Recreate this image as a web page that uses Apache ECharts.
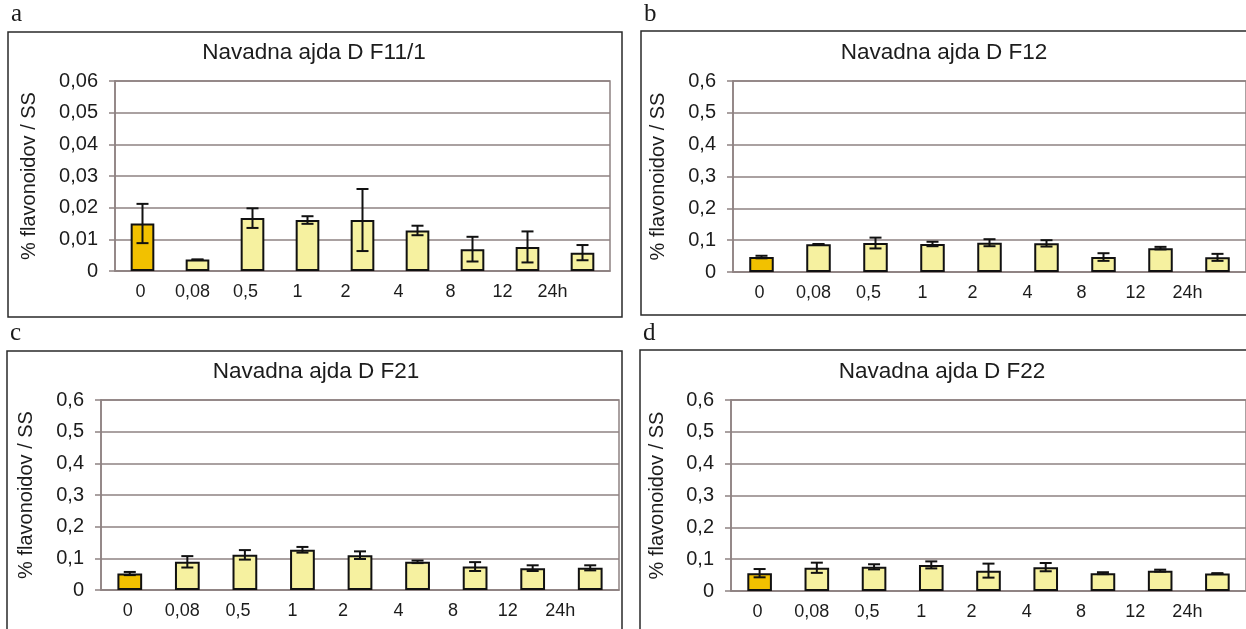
<!DOCTYPE html>
<html>
<head>
<meta charset="utf-8">
<title>Navadna ajda D – flavonoidi</title>
<script src="https://cdn.jsdelivr.net/npm/echarts@6/dist/echarts.min.js"></script>
<style>
  html, body { margin: 0; padding: 0; background: #ffffff; }
  #chart { width: 1246px; height: 629px; }
</style>
</head>
<body>
<div id="chart"></div>
<script>
// Sampling times (h)
const categories = ['0', '0,08', '0,5', '1', '2', '4', '8', '12', '24h'];

// Mean flavonoid content (% / SS) and standard deviation per fraction
const f11Values = [0.0150, 0.0036, 0.0167, 0.0161, 0.0161, 0.0128, 0.0069, 0.0076, 0.0058];
const f11Errors = [0.0062, 0.0000, 0.0031, 0.0012, 0.0098, 0.0015, 0.0039, 0.0049, 0.0024];

const f12Values = [0.047, 0.087, 0.091, 0.088, 0.092, 0.090, 0.047, 0.075, 0.046];
const f12Errors = [0.004, 0.001, 0.017, 0.007, 0.011, 0.010, 0.012, 0.004, 0.011];

const f21Values = [0.052, 0.089, 0.111, 0.127, 0.110, 0.089, 0.074, 0.069, 0.070];
const f21Errors = [0.005, 0.018, 0.015, 0.009, 0.012, 0.004, 0.014, 0.009, 0.008];

const f22Values = [0.056, 0.073, 0.076, 0.082, 0.064, 0.075, 0.056, 0.064, 0.055];
const f22Errors = [0.013, 0.016, 0.008, 0.011, 0.022, 0.013, 0.003, 0.003, 0.001];

// Y tick labels
const smallTicks = ['0', '0,01', '0,02', '0,03', '0,04', '0,05', '0,06'];
const largeTicks = ['0', '0,1', '0,2', '0,3', '0,4', '0,5', '0,6'];

const yName = '% flavonoidov / SS';

const panels = [
  { letter: 'a', title: 'Navadna ajda D F11/1', values: f11Values, errors: f11Errors, max: 0.06, interval: 0.01, ticks: smallTicks },
  { letter: 'b', title: 'Navadna ajda D F12',   values: f12Values, errors: f12Errors, max: 0.6,  interval: 0.1,  ticks: largeTicks },
  { letter: 'c', title: 'Navadna ajda D F21',   values: f21Values, errors: f21Errors, max: 0.6,  interval: 0.1,  ticks: largeTicks },
  { letter: 'd', title: 'Navadna ajda D F22',   values: f22Values, errors: f22Errors, max: 0.6,  interval: 0.1,  ticks: largeTicks }
];

// Layout of the four framed panels (pixels)
const layout = [
  { frame: [8, 32, 614, 285],    letterAt: [11, 27],  titleAt: [314, 53],  grid: { left: 115, top: 81,  width: 495, height: 190 }, nameGap: 76 },
  { frame: [641, 31, 620, 284],  letterAt: [644, 27], titleAt: [944, 53],  grid: { left: 733, top: 81,  width: 513, height: 191 }, nameGap: 65 },
  { frame: [7, 351, 615, 300],   letterAt: [10, 346], titleAt: [316, 372], grid: { left: 101, top: 400, width: 518, height: 190 }, nameGap: 65 },
  { frame: [640, 350, 620, 300], letterAt: [643, 346], titleAt: [942, 372], grid: { left: 731, top: 400, width: 515, height: 191 }, nameGap: 64 }
];

// Category labels drift slightly left of their bars
const labelShift = [-2, -5, -7, -10, -17, -19, -22, -25, -30];

const FONT = '"Liberation Sans", Arial, sans-serif';
const TEXT = '#1c1c1c';
const GRID = '#8e8282';
const BASE_FILL = '#f2c100';
const FILL = '#f6f1a0';

const labelRich = {};
labelShift.forEach((s, i) => {
  labelRich['s' + i] = { padding: [0, -2 * s, 0, 0], fontSize: 18, fontFamily: FONT, color: TEXT };
});

const grids = [], xAxes = [], yAxes = [], series = [], graphics = [];

panels.forEach((p, k) => {
  const L = layout[k];
  grids.push(Object.assign({
    show: true, borderColor: GRID, borderWidth: 1.5, backgroundColor: 'transparent'
  }, L.grid));

  xAxes.push({
    type: 'category', gridIndex: k, data: categories,
    axisLine: { lineStyle: { color: GRID, width: 1.5 } },
    axisTick: { show: false },
    axisLabel: {
      interval: 0, hideOverlap: false,
      margin: 12, fontSize: 18, fontFamily: FONT, color: TEXT,
      formatter: (v, i) => '{s' + i + '|' + v + '}',
      rich: labelRich
    }
  });

  yAxes.push({
    type: 'value', gridIndex: k, min: 0, max: p.max, interval: p.interval,
    name: yName, nameLocation: 'middle', nameGap: L.nameGap, nameRotate: 90,
    nameTextStyle: { fontSize: 20, fontFamily: FONT, color: TEXT },
    axisLine: { show: true, lineStyle: { color: GRID, width: 1.5 } },
    axisTick: { show: true, length: 6, lineStyle: { color: GRID, width: 1.5 } },
    splitLine: { lineStyle: { color: GRID, width: 1.5 } },
    axisLabel: {
      margin: 17, fontSize: 20, fontFamily: FONT, color: TEXT,
      formatter: v => p.ticks[Math.round(v / p.interval)]
    }
  });

  series.push({
    type: 'bar', xAxisIndex: k, yAxisIndex: k, barWidth: '43%',
    data: p.values.map((v, i) => ({
      value: v,
      itemStyle: { color: i === 0 ? BASE_FILL : FILL, borderColor: '#111', borderWidth: 2 }
    })),
    animation: false, z: 2
  });

  series.push({
    type: 'custom', xAxisIndex: k, yAxisIndex: k,
    data: p.values.map((v, i) => [i, v - p.errors[i], v + p.errors[i]]),
    encode: { x: 0, y: [1, 2] },
    renderItem: (params, api) => {
      const lo = api.coord([api.value(0), api.value(1)]);
      const hi = api.coord([api.value(0), api.value(2)]);
      const cap = 6;
      const style = { stroke: '#111', lineWidth: 2, fill: null };
      return {
        type: 'group',
        children: [
          { type: 'line', shape: { x1: hi[0], y1: hi[1], x2: lo[0], y2: lo[1] }, style },
          { type: 'line', shape: { x1: hi[0] - cap, y1: hi[1], x2: hi[0] + cap, y2: hi[1] }, style },
          { type: 'line', shape: { x1: lo[0] - cap, y1: lo[1], x2: lo[0] + cap, y2: lo[1] }, style }
        ]
      };
    },
    animation: false, z: 3
  });

  const [fx, fy, fw, fh] = L.frame;
  graphics.push({
    type: 'rect', shape: { x: fx, y: fy, width: fw, height: fh },
    style: { fill: null, stroke: '#2a2a2a', lineWidth: 1.5 }, z: 0
  });
  graphics.push({
    type: 'text', x: L.letterAt[0], y: L.letterAt[1],
    style: { text: p.letter, font: '25px "Liberation Serif", serif', fill: '#1a1a1a', textVerticalAlign: 'bottom' }
  });
  graphics.push({
    type: 'text', x: L.titleAt[0], y: L.titleAt[1],
    style: { text: p.title, font: '22.5px ' + FONT, fill: TEXT, textAlign: 'center', textVerticalAlign: 'middle' }
  });
});

const chart = echarts.init(document.getElementById('chart'));
chart.setOption({
  animation: false,
  backgroundColor: '#ffffff',
  grid: grids,
  xAxis: xAxes,
  yAxis: yAxes,
  series: series,
  graphic: graphics
});
</script>
</body>
</html>
